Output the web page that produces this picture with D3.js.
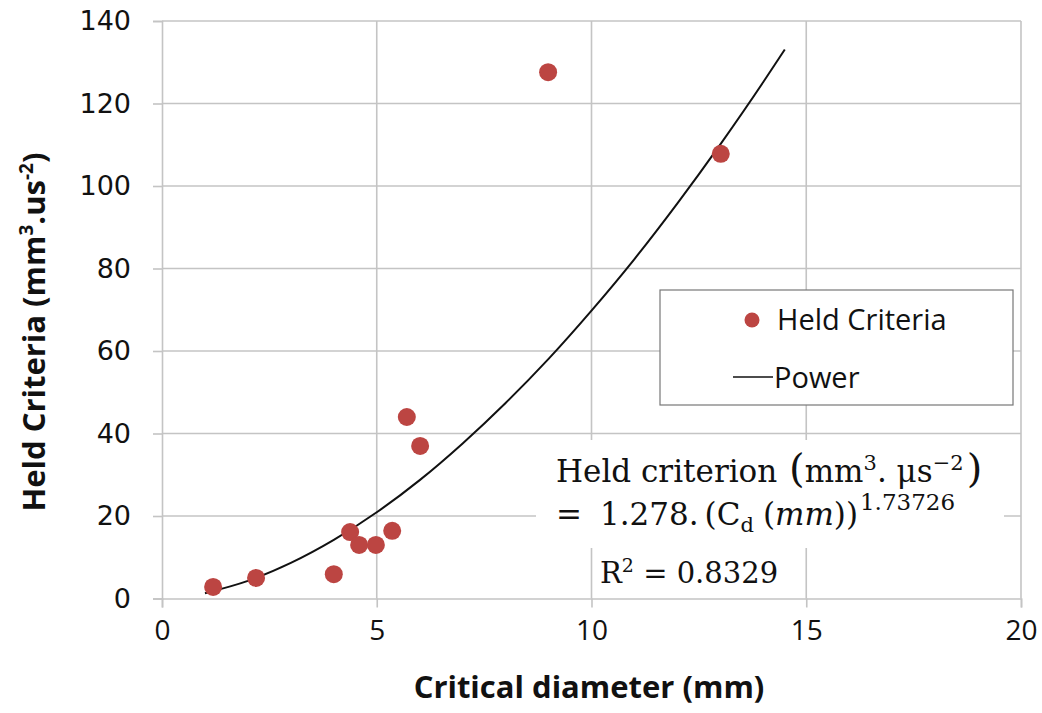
<!DOCTYPE html>
<html><head><meta charset="utf-8">
<script src="https://cdn.jsdelivr.net/npm/d3@7"></script>
<style>
html,body{margin:0;padding:0;background:#fff;}
svg{display:block;}
</style></head>
<body>
<svg id="chart" width="1042" height="713"></svg>
<script>
// Data
const diameters = [1.19, 2.19, 4.0, 4.38, 4.59, 4.98, 5.36, 5.70, 6.01, 8.99, 13.01];
const heldValues = [2.8, 5.0, 5.9, 16.1, 13.0, 13.0, 16.4, 44.0, 37.0, 127.6, 107.8];
const trendX = [1, 2, 3, 4, 5, 6, 7, 8, 9, 10, 11, 12, 13, 14, 14.5];
const trendY = [1.28, 4.26, 8.62, 14.2, 20.9, 28.7, 37.6, 47.4, 58.1, 69.8, 82.3, 95.8, 110.1, 125.2, 133.1];
const xTicks = [0, 5, 10, 15, 20];
const yTicks = [0, 20, 40, 60, 80, 100, 120, 140];

const svg = d3.select("#chart");
const x = d3.scaleLinear().domain([0, 20]).range([162, 1021]);
const y = d3.scaleLinear().domain([0, 140]).range([598.5, 21]);
const grid = "#c4c4c4";
const sans = "'Open Sans', sans-serif";

// gridlines
svg.append("g").selectAll("line").data(yTicks.filter(d => d > 0)).join("line")
  .attr("x1", x(0)).attr("x2", x(20)).attr("y1", d => y(d)).attr("y2", d => y(d))
  .attr("stroke", grid).attr("stroke-width", 1.6);
svg.append("g").selectAll("line").data(xTicks.filter(d => d > 0)).join("line")
  .attr("y1", y(0)).attr("y2", y(140)).attr("x1", d => x(d)).attr("x2", d => x(d))
  .attr("stroke", grid).attr("stroke-width", 1.6);

// axes
const xAxis = svg.append("g").attr("transform", `translate(0,${y(0)})`)
  .call(d3.axisBottom(x).tickValues(xTicks).tickSize(9).tickPadding(11).tickFormat(d3.format("d")));
const yAxis = svg.append("g").attr("transform", `translate(${x(0)},0)`)
  .call(d3.axisLeft(y).tickValues(yTicks).tickSize(9).tickPadding(22).tickFormat(d3.format("d")));
[xAxis, yAxis].forEach(a => {
  a.select(".domain").attr("stroke", grid).attr("stroke-width", 1.6);
  a.selectAll(".tick line").attr("stroke", grid).attr("stroke-width", 1.6);
});
xAxis.selectAll("text").attr("font-family", sans)
  .attr("font-size", 28).attr("fill", "#111").attr("dy", "0.75em");
yAxis.selectAll("text").attr("font-family", "'DejaVu Sans', sans-serif")
  .attr("font-size", 27).attr("fill", "#111");

// equation box (white background)
svg.append("rect").attr("x", 536).attr("y", 440).attr("width", 468).attr("height", 108).attr("fill", "#fff");

// trend line
svg.append("path").datum(trendX.map((d, i) => [d, trendY[i]]))
  .attr("d", d3.line().x(d => x(d[0])).y(d => y(d[1])).curve(d3.curveMonotoneX))
  .attr("fill", "none").attr("stroke", "#111").attr("stroke-width", 2);

// points
svg.append("g").selectAll("circle").data(diameters.map((d, i) => [d, heldValues[i]])).join("circle")
  .attr("cx", d => x(d[0])).attr("cy", d => y(d[1])).attr("r", 9)
  .attr("fill", "#bc4542");

// legend
const lg = svg.append("g");
lg.append("rect").attr("x", 660).attr("y", 290).attr("width", 353).attr("height", 115)
  .attr("fill", "#fff").attr("stroke", "#777").attr("stroke-width", 1.2);
lg.append("circle").attr("cx", 752).attr("cy", 320).attr("r", 7.5).attr("fill", "#bc4542");
lg.append("text").attr("x", 777).attr("y", 330).text("Held Criteria")
  .attr("font-family", sans).attr("font-size", 29).attr("fill", "#111");
lg.append("line").attr("x1", 733).attr("x2", 773).attr("y1", 377).attr("y2", 377)
  .attr("stroke", "#111").attr("stroke-width", 1.5);
lg.append("text").attr("x", 774).attr("y", 388).text("Power")
  .attr("font-family", sans).attr("font-size", 29).attr("fill", "#111");

// equation text
const eqFont = "'DejaVu Serif', serif";
const t1 = svg.append("text").attr("x", 556).attr("y", 482).attr("font-family", eqFont).attr("font-size", 31).attr("fill", "#111");
t1.append("tspan").text("Held criterion ");
t1.append("tspan").text("(").attr("font-size", 40).attr("dx", 2);
t1.append("tspan").text("mm");
t1.append("tspan").text("3").attr("font-size", 21).attr("dy", -12);
t1.append("tspan").text(". μs").attr("dy", 12);
t1.append("tspan").text("−2").attr("font-size", 21).attr("dy", -12);
t1.append("tspan").text(")").attr("font-size", 40).attr("dy", 12).attr("dx", 3);
const t2 = svg.append("text").attr("x", 556).attr("y", 525).attr("font-family", eqFont).attr("font-size", 31).attr("fill", "#111");
t2.append("tspan").text("=");
t2.append("tspan").text("1.278.").attr("dx", 18);
t2.append("tspan").text("(C").attr("dx", 6);
t2.append("tspan").text("d").attr("font-size", 21).attr("dy", 7);
t2.append("tspan").text("(").attr("dy", -7).attr("dx", 9);
t2.append("tspan").text("mm").attr("font-style", "italic");
t2.append("tspan").text("))");
t2.append("tspan").text("1.73726").attr("font-size", 23).attr("dy", -15).attr("dx", 2);
const t3 = svg.append("text").attr("x", 600).attr("y", 583).attr("font-family", eqFont).attr("font-size", 29).attr("fill", "#111");
t3.append("tspan").text("R");
t3.append("tspan").text("2").attr("font-size", 19).attr("dy", -11);
t3.append("tspan").text(" = 0.8329").attr("dy", 11);

// axis titles
svg.append("text").attr("x", 589).attr("y", 698).attr("text-anchor", "middle")
  .attr("font-family", sans).attr("font-weight", "bold").attr("font-size", 31)
  .attr("fill", "#111").text("Critical diameter (mm)");
const yt = svg.append("text").attr("transform", "translate(45,332) rotate(-90)").attr("text-anchor", "middle")
  .attr("font-family", sans).attr("font-weight", "bold").attr("font-size", 31).attr("fill", "#111");
yt.append("tspan").text("Held Criteria (mm");
yt.append("tspan").text("3").attr("font-size", 19).attr("dy", -12);
yt.append("tspan").text(".us").attr("dy", 12);
yt.append("tspan").text("-2").attr("font-size", 19).attr("dy", -12);
yt.append("tspan").text(")").attr("dy", 12);
</script>
</body></html>
